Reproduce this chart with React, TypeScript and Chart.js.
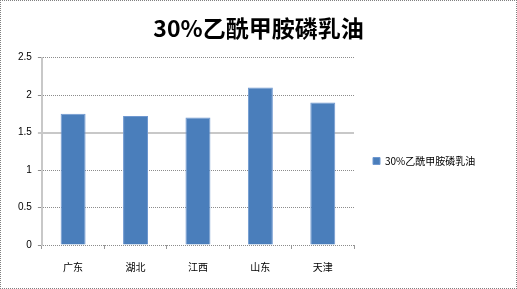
import React, { useEffect, useRef } from "react";
import { Chart, registerables } from "chart.js";

Chart.register(...registerables);

const categories = ["广东", "湖北", "江西", "山东", "天津"];
const seriesName = "30%乙酰甲胺磷乳油";
const seriesValues = [1.75, 1.72, 1.7, 2.1, 1.9];
const titleText = "30%乙酰甲胺磷乳油";

// Give the right-hand legend a fixed width so the long label is never clipped.
const legendWidthPlugin = {
  id: "legendWidth",
  beforeLayout(chart: any) {
    const lg = chart.legend;
    if (lg && !lg._widthPatched) {
      const fit = lg.fit;
      lg.fit = function (this: any) {
        fit.call(this);
        this.width = 151;
      };
      lg._widthPatched = true;
    }
  },
};

export default function App() {
  const ref = useRef<HTMLCanvasElement | null>(null);
  useEffect(() => {
    if (!ref.current) return;
    const chart = new Chart(ref.current, {
      type: "bar",
      data: {
        labels: categories,
        datasets: [
          {
            label: seriesName,
            data: seriesValues,
            backgroundColor: "#4a7ebb",
            borderColor: "#6f98d0",
            borderWidth: 1,
            barPercentage: 0.4,
            categoryPercentage: 1,
          },
        ],
      },
      plugins: [legendWidthPlugin],
      options: {
        responsive: false,
        animation: false,
        layout: { padding: { left: 11, right: 11, top: 0, bottom: 3 } },
        plugins: {
          title: {
            display: true,
            text: titleText,
            color: "#000",
            font: { family: "'Noto Sans CJK SC', 'Noto Sans'", size: 23, weight: "bold" },
            padding: { top: 13, bottom: 16 },
          },
          legend: {
            position: "right",
            title: {
              display: true,
              text: "",
              font: { size: 10 },
              padding: { top: 0, bottom: 24 },
            },
            labels: {
              boxWidth: 7,
              boxHeight: 7,
              color: "#000",
              font: { family: "'Noto Sans CJK SC', 'Noto Sans'", size: 10 },
              padding: 19,
            },
          },
          tooltip: { enabled: false },
        },
        scales: {
          x: {
            offset: true,
            grid: {
              offset: true,
              drawOnChartArea: false,
              drawTicks: true,
              tickLength: 4,
              color: "#999",
            },
            border: { display: false },
            ticks: {
              color: "#000",
              font: { family: "'Noto Sans CJK SC', 'Noto Sans'", size: 10 },
              padding: 12,
            },
          },
          y: {
            min: 0,
            max: 2.5,
            ticks: {
              stepSize: 0.5,
              color: "#000",
              font: { family: "'Liberation Sans', 'DejaVu Sans'", size: 10 },
              padding: 6,
              callback: (v: any) => String(Number(v)),
            },
            grid: {
              color: (ctx: any) => (ctx.tick && ctx.tick.value === 1.5 ? "#c8c8c8" : "#8c8c8c"),
              lineWidth: (ctx: any) => (ctx.tick && ctx.tick.value === 1.5 ? 2 : 1),
              tickLength: 4,
            },
            border: {
              display: true,
              color: "#c8c8c8",
              width: 2,
              dash: (ctx: any) => (ctx.tick && ctx.tick.value === 1.5 ? [] : [1, 1]),
            } as any,
          },
        },
      },
    });
    return () => chart.destroy();
  }, []);
  return (
    <div
      style={{
        position: "absolute",
        left: 0,
        top: 0,
        width: 517,
        height: 289,
        boxSizing: "border-box",
        border: "1px dotted #808080",
        background: "#fff",
      }}
    >
      <canvas ref={ref} width={515} height={287} style={{ display: "block" }} />
    </div>
  );
}
